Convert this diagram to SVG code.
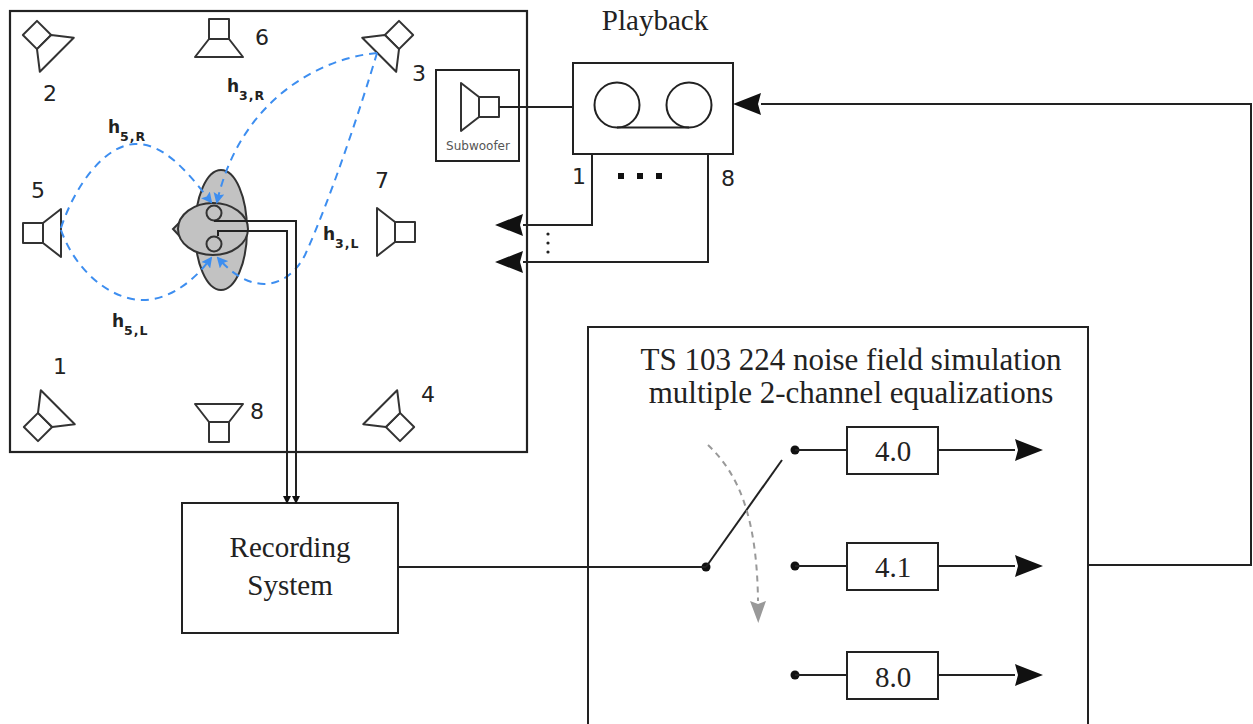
<svg xmlns="http://www.w3.org/2000/svg" width="1253" height="724" viewBox="0 0 1253 724">
  <style>
    .ln { fill: none; stroke: #222; stroke-width: 2; stroke-linejoin: miter; }
    .box { fill: #fff; stroke: #222; stroke-width: 2; }
    .spk rect, .spk path { fill: #fff; stroke: #333; stroke-width: 2; stroke-linejoin: round; }
    .num { font-family: "DejaVu Sans", sans-serif; font-size: 22px; fill: #222; }
    .serif { font-family: "Liberation Serif", "Times New Roman", serif; fill: #222; }
    .hlab { font-family: "DejaVu Sans", sans-serif; font-weight: bold; font-size: 17px; fill: #222; }
    .hsub { font-size: 12.5px; letter-spacing: 1px; }
    .path-blue { fill: none; stroke: #3d8ef0; stroke-width: 2; stroke-dasharray: 8 6; }
    .head { fill: #c2c2c2; stroke: #333; stroke-width: 2; }
  </style>
  <defs>
    <!-- loudspeaker: magnet square at origin, cone opening towards +x -->
    <g id="spk" class="spk">
      <rect x="-10" y="-10" width="20" height="20"/>
      <path d="M10,-10 L28,-24 L28,24 L10,10 Z"/>
    </g>
    <marker id="arrBig" markerUnits="userSpaceOnUse" markerWidth="28" markerHeight="22" viewBox="0 0 28 22" refX="0" refY="11" orient="auto">
      <path d="M0,0 L28,11 L0,22 L3,11 Z" fill="#111"/>
    </marker>
    <marker id="arrSmall" markerUnits="userSpaceOnUse" markerWidth="8" markerHeight="8" viewBox="0 0 8 8" refX="0" refY="4" orient="auto">
      <path d="M0,0 L8,4 L0,8 Z" fill="#111"/>
    </marker>
    <marker id="arrBlue" markerUnits="userSpaceOnUse" markerWidth="11" markerHeight="11" viewBox="0 0 11 11" refX="9" refY="5.5" orient="auto">
      <path d="M0,0 L11,5.5 L0,11 L2,5.5 Z" fill="#3d8ef0"/>
    </marker>
    <marker id="arrGray" markerUnits="userSpaceOnUse" markerWidth="22" markerHeight="16" viewBox="0 0 22 16" refX="0" refY="8" orient="auto">
      <path d="M0,0 L22,8 L0,16 L3,8 Z" fill="#999"/>
    </marker>
  </defs>

  <rect width="1253" height="724" fill="#fff"/>

  <!-- listening room -->
  <g id="room">
    <rect x="10" y="11" width="517" height="441" fill="none" stroke="#222" stroke-width="2.2"/>
  </g>

  <!-- loudspeakers -->
  <g id="speaker1"><use href="#spk" transform="translate(38,427) rotate(-45)"/><text class="num" x="60" y="374" text-anchor="middle">1</text></g>
  <g id="speaker2"><use href="#spk" transform="translate(37,35) rotate(45)"/><text class="num" x="50" y="101" text-anchor="middle">2</text></g>
  <g id="speaker3"><use href="#spk" transform="translate(399,35) rotate(135)"/><text class="num" x="419" y="81" text-anchor="middle">3</text></g>
  <g id="speaker4"><use href="#spk" transform="translate(400,427) rotate(-135)"/><text class="num" x="428" y="402" text-anchor="middle">4</text></g>
  <g id="speaker5"><use href="#spk" transform="translate(33,233)"/><text class="num" x="38" y="198" text-anchor="middle">5</text></g>
  <g id="speaker6"><use href="#spk" transform="translate(219,29) rotate(90)"/><text class="num" x="262" y="45" text-anchor="middle">6</text></g>
  <g id="speaker7"><use href="#spk" transform="translate(405,232) rotate(180)"/><text class="num" x="382" y="188" text-anchor="middle">7</text></g>
  <g id="speaker8"><use href="#spk" transform="translate(219,432) rotate(-90)"/><text class="num" x="257" y="419" text-anchor="middle">8</text></g>

  <!-- subwoofer -->
  <g id="subwoofer">
    <rect x="436" y="70" width="83" height="91" class="box" stroke-width="1.8"/>
    <use href="#spk" transform="translate(489,107) rotate(180)"/>
    <text x="478" y="150" text-anchor="middle" font-family="DejaVu Sans, sans-serif" font-size="12" fill="#555">Subwoofer</text>
  </g>

  <!-- listener (head and torso simulator) -->
  <g id="listener">
    <ellipse class="head" cx="221" cy="230" rx="26" ry="60"/>
    <path class="head" d="M184,218 L173,229 L184,241 Z"/>
    <ellipse class="head" cx="213" cy="229" rx="35" ry="26"/>
    <circle class="head" cx="214" cy="213" r="7.5"/>
    <circle class="head" cx="214" cy="244" r="7.5"/>
  </g>

  <!-- playback device -->
  <g id="playback">
    <text class="serif" x="655" y="30" text-anchor="middle" font-size="29">Playback</text>
    <rect class="box" x="573" y="63" width="160" height="91"/>
    <circle cx="617" cy="105" r="22.5" fill="none" stroke="#222" stroke-width="2"/>
    <circle cx="689" cy="105" r="22.5" fill="none" stroke="#222" stroke-width="2"/>
    <line x1="617" y1="127.5" x2="689" y2="127.5" stroke="#222" stroke-width="2"/>
    <text class="num" x="579" y="184" text-anchor="middle" font-size="21">1</text>
    <text class="num" x="728" y="186" text-anchor="middle" font-size="23">8</text>
    <rect x="618" y="173" width="6" height="6" fill="#111"/>
    <rect x="637" y="173" width="6" height="6" fill="#111"/>
    <rect x="656" y="173" width="6" height="6" fill="#111"/>
  </g>

  <!-- recording system -->
  <g id="recording">
    <rect class="box" x="182" y="503" width="216" height="130"/>
    <text class="serif" x="290" y="557" text-anchor="middle" font-size="29">Recording</text>
    <text class="serif" x="290" y="595" text-anchor="middle" font-size="29">System</text>
  </g>

  <!-- noise field simulation block -->
  <g id="noise-sim">
    <rect class="box" x="588" y="327" width="500" height="410"/>
    <text class="serif" x="851" y="370" text-anchor="middle" font-size="31">TS 103 224 noise field simulation</text>
    <text class="serif" x="851" y="403" text-anchor="middle" font-size="31">multiple 2-channel equalizations</text>
  </g>
  <g id="eq-4-0">
    <rect class="box" x="847" y="427" width="91" height="47"/>
    <text class="serif" x="893" y="461" text-anchor="middle" font-size="29">4.0</text>
  </g>
  <g id="eq-4-1">
    <rect class="box" x="847" y="543" width="91" height="47"/>
    <text class="serif" x="893" y="577" text-anchor="middle" font-size="29">4.1</text>
  </g>
  <g id="eq-8-0">
    <rect class="box" x="847" y="652" width="91" height="47"/>
    <text class="serif" x="893" y="687" text-anchor="middle" font-size="29">8.0</text>
  </g>
  <g id="selector">
    <circle cx="706" cy="567" r="4.5" fill="#111"/>
    <circle cx="795" cy="450" r="4.5" fill="#111"/>
    <circle cx="795" cy="566" r="4.5" fill="#111"/>
    <circle cx="795" cy="675" r="4.5" fill="#111"/>
    <line x1="706" y1="567" x2="782" y2="460" stroke="#222" stroke-width="2"/>
    <path d="M708,445 C740,475 757,520 758,601" fill="none" stroke="#999" stroke-width="2" stroke-dasharray="6 5" marker-end="url(#arrGray)"/>
  </g>

  <!-- connectors -->
  <g id="connectors">
    <!-- acoustic transfer paths -->
    <path class="path-blue" d="M61,228 C75,185 105,145 135,144 C165,143 190,175 211,202" marker-end="url(#arrBlue)"/>
    <path class="path-blue" d="M61,230 C75,270 110,300 143,300 C170,300 195,280 211,258" marker-end="url(#arrBlue)"/>
    <path class="path-blue" d="M377,53 C320,58 240,100 217,202" marker-end="url(#arrBlue)"/>
    <path class="path-blue" d="M377,53 C360,110 330,200 305,255 C290,285 255,300 218,258" marker-end="url(#arrBlue)"/>
    <text class="hlab" x="108" y="133">h<tspan class="hsub" dy="8">5,R</tspan></text>
    <text class="hlab" x="227" y="92">h<tspan class="hsub" dy="8">3,R</tspan></text>
    <text class="hlab" x="112" y="327">h<tspan class="hsub" dy="8">5,L</tspan></text>
    <text class="hlab" x="323" y="240">h<tspan class="hsub" dy="8">3,L</tspan></text>

    <!-- ear signals to recorder -->
    <path class="ln" d="M214,221 L296,221 L296,496" marker-end="url(#arrSmall)"/>
    <path class="ln" d="M218,236 L218,231 L287,231 L287,496" marker-end="url(#arrSmall)"/>

    <!-- playback to speakers -->
    <line class="ln" x1="499" y1="107" x2="573" y2="107"/>
    <path class="ln" d="M592,154 L592,225 L523,225" marker-end="url(#arrBig)"/>
    <path class="ln" d="M708,154 L708,262 L523,262" marker-end="url(#arrBig)"/>
    <circle cx="548" cy="234" r="1.6" fill="#222"/>
    <circle cx="548" cy="243" r="1.6" fill="#222"/>
    <circle cx="548" cy="252" r="1.6" fill="#222"/>

    <!-- recorder to selector -->
    <line class="ln" x1="398" y1="567" x2="706" y2="567"/>
    <line class="ln" x1="795" y1="450" x2="847" y2="450"/>
    <line class="ln" x1="795" y1="566" x2="847" y2="566"/>
    <line class="ln" x1="795" y1="675" x2="847" y2="675"/>
    <line class="ln" x1="938" y1="450" x2="1015" y2="450" marker-end="url(#arrBig)"/>
    <line class="ln" x1="938" y1="566" x2="1015" y2="566" marker-end="url(#arrBig)"/>
    <line class="ln" x1="938" y1="675" x2="1015" y2="675" marker-end="url(#arrBig)"/>

    <!-- feedback to playback -->
    <path class="ln" d="M1088,565 L1251,565 L1251,104 L761,104" marker-end="url(#arrBig)"/>
  </g>
</svg>
